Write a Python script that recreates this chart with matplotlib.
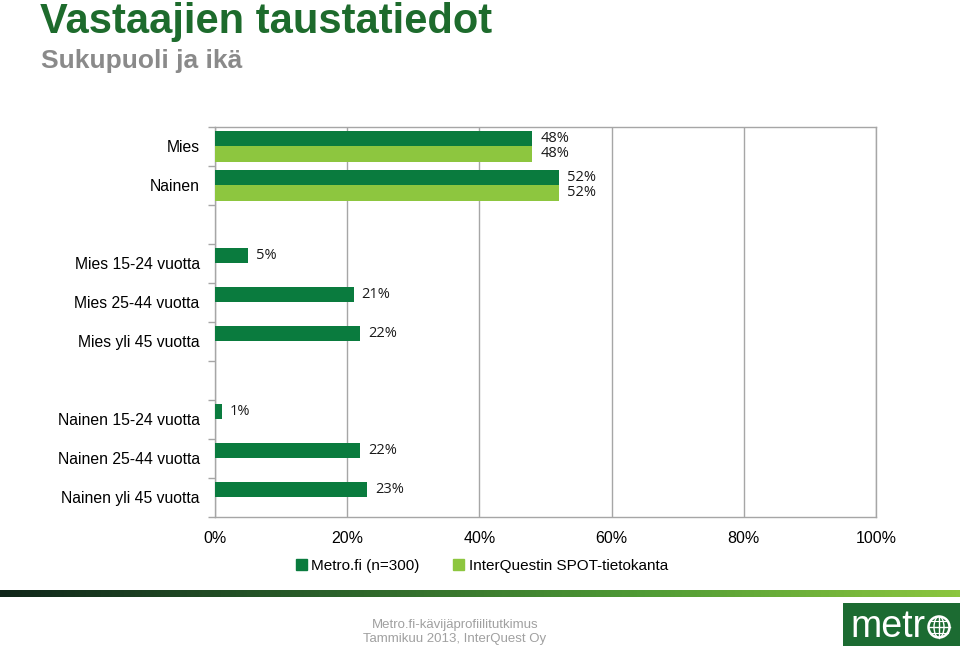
import numpy as np
import matplotlib
matplotlib.use("Agg")
import matplotlib.pyplot as plt
from matplotlib.colors import LinearSegmentedColormap
from matplotlib.patches import Rectangle, Circle, Ellipse

# --- data ---
categories = ['Mies', 'Nainen', '',
              'Mies 15-24 vuotta', 'Mies 25-44 vuotta', 'Mies yli 45 vuotta', '',
              'Nainen 15-24 vuotta', 'Nainen 25-44 vuotta', 'Nainen yli 45 vuotta']
metro_vals = [48, 52, None, 5, 21, 22, None, 1, 22, 23]
spot_vals = [48, 52, None, None, None, None, None, None, None, None]
series_names = ['Metro.fi (n=300)', 'InterQuestin SPOT-tietokanta']
xticks = [0, 20, 40, 60, 80, 100]

DARK = '#0A7B3E'
LIGHT = '#8DC63F'
GRID = '#A6A6A6'

plt.rcParams['font.family'] = ['Liberation Sans', 'DejaVu Sans']

W, H = 960, 651
fig = plt.figure(figsize=(W / 100, H / 100), dpi=100)

# title
fig.text(40 / W, 1 - 33 / H, 'Vastaajien taustatiedot', fontsize=30, fontweight='bold',
         color='#1D6B2C', va='baseline', ha='left')
fig.text(41 / W, 1 - 68 / H, 'Sukupuoli ja ikä', fontsize=19, fontweight='bold',
         color='#8A8A8A', va='baseline', ha='left')

# --- chart ---
ax = fig.add_axes([215 / W, 1 - 516.7 / H, (876 - 215) / W, (516.7 - 126.7) / H])
y = np.arange(len(categories))
bh = 0.4

for i, (m, s) in enumerate(zip(metro_vals, spot_vals)):
    if m is not None:
        ax.barh(y[i] - bh / 2, m, height=bh, color=DARK, zorder=3)
        ax.text(m + 1.2, y[i] - bh / 2, f'{m}%', va='center', ha='left',
                fontsize=10.5, family='Open Sans', color='#1A1A1A', zorder=4)
    if s is not None:
        ax.barh(y[i] + bh / 2, s, height=bh, color=LIGHT, zorder=3)
        ax.text(s + 1.2, y[i] + bh / 2, f'{s}%', va='center', ha='left',
                fontsize=10.5, family='Open Sans', color='#1A1A1A', zorder=4)

ax.set_xlim(0, 100)
ax.set_ylim(len(categories) - 0.5, -0.5)
ax.set_xticks(xticks)
ax.set_xticklabels([f'{t}%' for t in xticks], fontsize=11.5)
ax.tick_params(axis='x', length=0, pad=10)
ax.set_yticks(y)
ax.set_yticklabels(categories, fontsize=11.3)
ax.tick_params(axis='y', which='major', length=0, pad=11)
ax.set_yticks(np.arange(len(categories) + 1) - 0.5, minor=True)
ax.tick_params(axis='y', which='minor', length=5, color=GRID, width=1)
ax.xaxis.grid(True, color=GRID, linewidth=1, zorder=0)
for sp in ax.spines.values():
    sp.set_color(GRID)
    sp.set_linewidth(1)

# legend
handles = [Rectangle((0, 0), 1, 1, color=DARK), Rectangle((0, 0), 1, 1, color=LIGHT)]
fig.legend(handles, series_names, loc='center', bbox_to_anchor=(482 / W, 1 - 566 / H),
           ncol=2, frameon=False, fontsize=11, handlelength=0.7, handleheight=0.7,
           handletextpad=0.3, columnspacing=2.2)

# --- footer ---
gax = fig.add_axes([0, 1 - 597 / H, 1, 7 / H])
cmap = LinearSegmentedColormap.from_list('band', ['#10261a', '#2a5f2a', '#4f9a35', '#8CC63F'])
gax.imshow(np.linspace(0, 1, 256).reshape(1, -1), aspect='auto', cmap=cmap)
gax.axis('off')

fig.text(455 / W, 1 - 625 / H, 'Metro.fi-kävijäprofiilitutkimus', fontsize=9.5,
         color='#A0A0A0', ha='center', va='center')
fig.text(455 / W, 1 - 639 / H, 'Tammikuu 2013, InterQuest Oy', fontsize=9.5,
         color='#A0A0A0', ha='center', va='center')

# logo
lax = fig.add_axes([843 / W, 1 - 646 / H, (960 - 843) / W, 43 / H])
lax.set_xlim(0, 117)
lax.set_ylim(0, 43)
lax.add_patch(Rectangle((0, 0), 117, 43, color='#1C6B32'))
lax.text(7, 19, 'metr', fontsize=27, color='white', va='center', ha='left')
lax.add_patch(Circle((96, 19), 10.5, fill=False, ec='white', lw=1.8))
lax.add_patch(Ellipse((96, 19), 10, 21, fill=False, ec='white', lw=1))
lax.plot([85.5, 106.5], [19, 19], color='white', lw=1)
lax.plot([96, 96], [8.5, 29.5], color='white', lw=1)
lax.plot([87.5, 104.5], [25, 25], color='white', lw=0.8)
lax.plot([87.5, 104.5], [13, 13], color='white', lw=0.8)
lax.axis('off')

fig.savefig('out.png', dpi=100)
